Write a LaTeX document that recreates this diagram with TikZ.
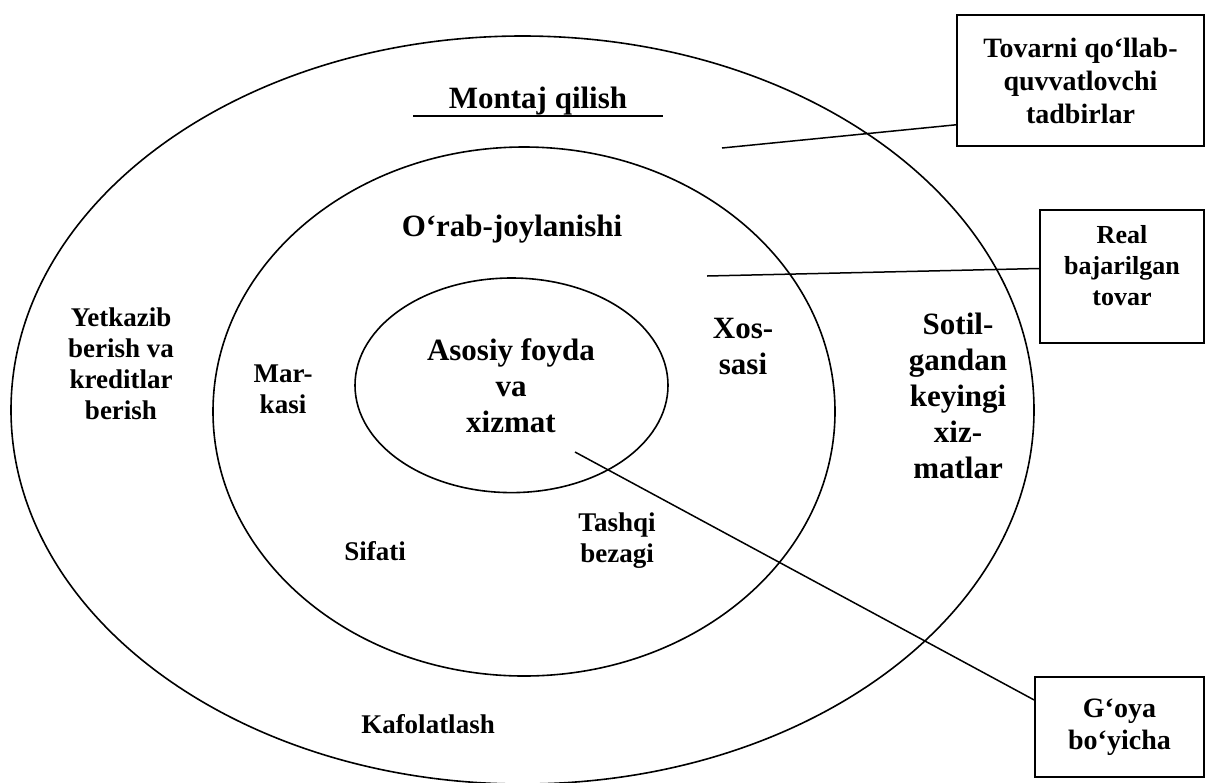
\documentclass[tikz,border=0pt]{standalone}
\usepackage{fontspec}
\setmainfont{Liberation Serif}
\begin{document}
\begin{tikzpicture}[x=1pt, y=-1pt,
    ring/.style={line width=1.6pt},
    pointer/.style={line width=1.5pt},
    bigtxt/.style={font=\bfseries\fontsize{31}{36}\selectfont, align=center, inner sep=0pt},
    midtxt/.style={font=\bfseries\fontsize{27}{31}\selectfont, align=center, inner sep=0pt},
    tagbox/.style={draw, line width=1.6pt, inner sep=0pt, align=center, font=\bfseries\fontsize{28}{33}\selectfont}]
      \useasboundingbox (0,0) rectangle (1206,782);

      \draw[ring] (522.5,410) ellipse[x radius=511.5, y radius=374];
      \draw[ring] (524,411.5) ellipse[x radius=311, y radius=264.5];
      \draw[ring] (511.5,385.3) ellipse[x radius=156.5, y radius=107.3];

      \node[bigtxt, anchor=base] (montaj) at (538,108) {Montaj qilish};
      \draw[pointer] (413,116) -- (663,116);
      \node[bigtxt, anchor=base] (orab) at (512,236) {O‘rab-joylanishi};
      \node[bigtxt] (asosiy) at (511,386) {Asosiy foyda\\va\\xizmat};
      \node[bigtxt] (xossasi) at (743,346) {Xos-\\sasi};
      \node[bigtxt] (sotil) at (958,396) {Sotil-\\gandan\\keyingi\\xiz-\\matlar};
      \node[midtxt] (markasi) at (283,389) {Mar-\\kasi};
      \node[midtxt] (yetkazib) at (121,364) {Yetkazib\\berish va\\kreditlar\\berish};
      \node[midtxt, anchor=base] (sifati) at (375,560) {Sifati};
      \node[midtxt] (tashqi) at (617,541) {Tashqi\\bezagi};
      \node[midtxt, anchor=base] (kafolat) at (428,733) {Kafolatlash};

      % boxes on the right
      \node[tagbox, minimum width=247.5pt, minimum height=131pt] (tovarni) at (1080.5,80.5) {Tovarni qo‘llab-\\quvvatlovchi\\tadbirlar};
      \node[tagbox, minimum width=164pt, minimum height=133pt] (real) at (1122,276.5) {};
      \node[midtxt, font=\bfseries\fontsize{26}{31}\selectfont] (realtxt) at ([yshift=11pt]real.center) {Real\\bajarilgan\\tovar};
      \node[tagbox, minimum width=169pt, minimum height=100pt, font=\bfseries\fontsize{28}{32}\selectfont] (goya) at (1119.5,727) {G‘oya\\bo‘yicha};

      \coordinate (tipA) at (722,148);
      \coordinate (tipB) at (707,276);
      \coordinate (tipC) at (575,452);
      \draw[pointer] (tipA) -- ([yshift=22pt]tovarni.south west);
      \draw[pointer] (tipB) -- ([yshift=8pt]real.west);
      \draw[pointer] (tipC) -- ([yshift=27pt]goya.west);

\end{tikzpicture}
\end{document}
